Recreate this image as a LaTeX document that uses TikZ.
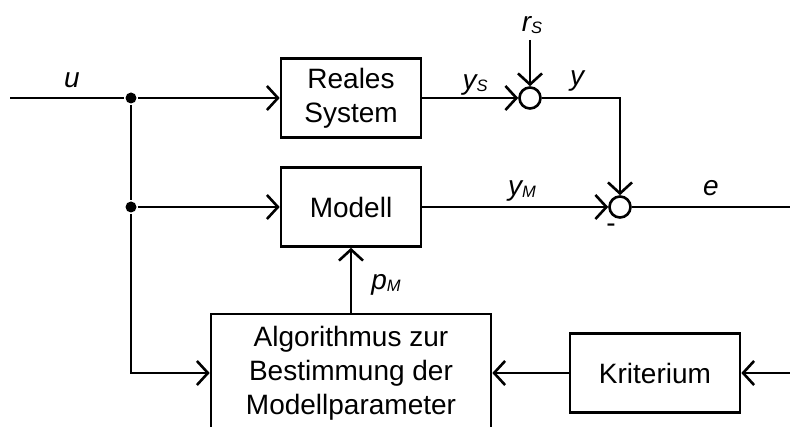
\documentclass[tikz,border=0pt]{standalone}
\usepackage{fontspec}
\setmainfont{Liberation Sans}
\usetikzlibrary{arrows.meta}
\newcommand\subs[1]{\raisebox{-1.5pt}{\fontsize{16.5}{16.5}\selectfont\itshape #1}}
\begin{document}
\begin{tikzpicture}[x=1pt,y=-1pt,
  line width=2.6pt,
  font=\fontsize{28}{34}\selectfont,
  block/.style={draw,rectangle,align=center,inner sep=0pt},
  sumpt/.style={draw,circle,minimum size=21pt,inner sep=0pt},
  dotpt/.style={circle,fill,minimum size=11pt,inner sep=0pt},
  arr/.style={-{Straight Barb[length=11pt,width=24pt]}},
  lbl/.style={anchor=base,inner sep=0pt,font=\fontsize{28}{34}\selectfont\itshape}]
\clip (0,0) rectangle (790,427);
\useasboundingbox (0,0) rectangle (790,427);

% blocks
\node[block,minimum width=140pt,minimum height=79pt] (real) at (351,98) {Reales\\System};
\node[block,minimum width=140pt,minimum height=79pt] (model) at (351,207) {Modell};
\node[block,minimum width=280pt,minimum height=118pt] (algo) at (351,373) {Algorithmus zur\\Bestimmung der\\Modellparameter};
\node[block,minimum width=170pt,minimum height=79pt] (crit) at (655,373) {Kriterium};

% summing points
\node[sumpt] (s1) at (530,98) {};
\node[sumpt] (s2) at (620,207) {};

% branch points
\node[dotpt] (d1) at (131,98) {};
\node[dotpt] (d2) at (131,207) {};

% free ends
\coordinate (uin) at (10,98);
\coordinate (rin) at (530,40);
\coordinate (eout) at (790,207);
\coordinate (cin) at (790,373);

% signal lines
\draw (uin) -- (d1);
\draw[arr] (d1) -- (real.west);
\draw (d1) -- (d2);
\draw[arr] (d2) -- (model.west);
\draw[arr] (d2) -- (d2 |- algo.west) -- (algo.west);
\draw[arr] (real.east) -- (s1.west);
\draw[arr] (rin) -- (s1.north);
\draw[arr] (s1.east) -- (s2 |- s1) -- (s2.north);
\draw[arr] (model.east) -- (s2.west);
\draw (s2.east) -- (eout);
\draw[arr] (algo.north) -- (model.south);
\draw[arr] (crit.west) -- (algo.east);
\draw[arr] (cin) -- (crit.east);

% labels
\node[lbl] (lu) at (72,88) {u};
\node[lbl] (lys) at (475,90) {y\subs{S}};
\node[lbl] (lrs) at (532,32) {r\subs{S}};
\node[lbl] (ly) at (577,86) {y};
\node[lbl] (lym) at (522,196) {y\subs{M}};
\node[lbl] (le) at (711,196) {e};
\node[lbl] (lpm) at (386,290) {p\subs{M}};
\node[inner sep=0pt,font=\fontsize{28}{34}\selectfont] (minus) at (611,228) {-};
\end{tikzpicture}
\end{document}
